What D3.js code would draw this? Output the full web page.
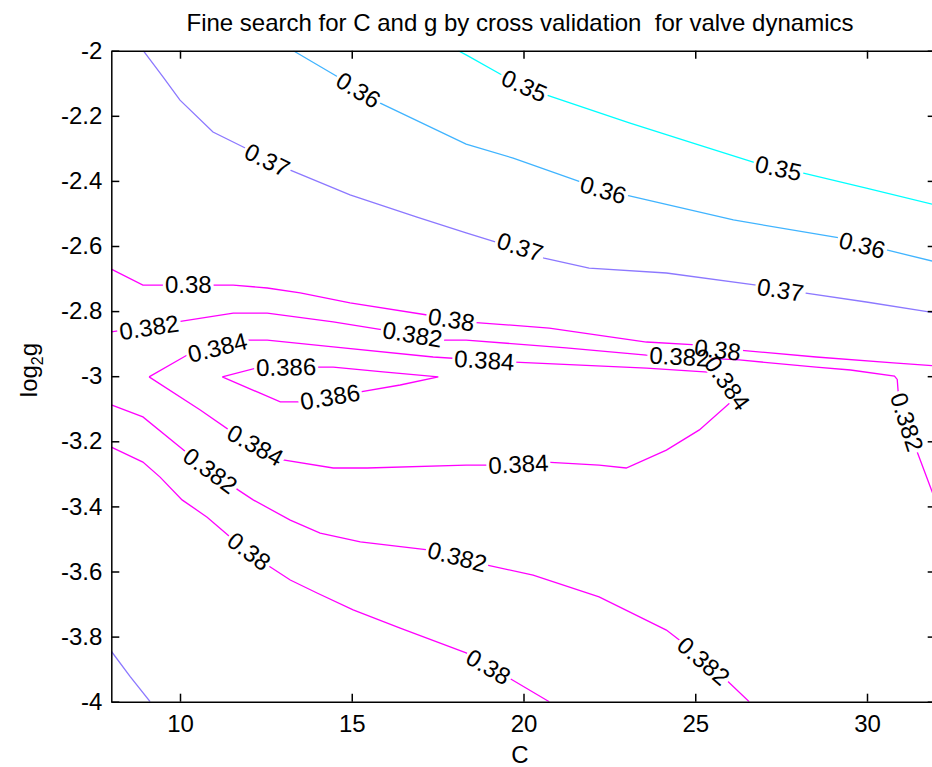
<!DOCTYPE html>
<html>
<head>
<meta charset="utf-8">
<script src="https://cdn.jsdelivr.net/npm/d3@7"></script>
<style>
body { margin: 0; background: #fff; }
text { font-family: "Liberation Sans", Arial, sans-serif; fill: #000; }
</style>
</head>
<body>
<div id="chart"></div>
<script>
// Tick values
var xTicks = [10, 15, 20, 25, 30];
var yTicks = [-4, -3.8, -3.6, -3.4, -3.2, -3, -2.8, -2.6, -2.4, -2.2, -2];

// Contour lines, as [C, log2g] pairs, and label spots
var line035 = [[18.10,-2.000],[18.33,-2.013],[19.41,-2.077],[20.66,-2.136],[23.08,-2.222],[25.12,-2.290],[26.78,-2.345],[28.15,-2.376],[29.98,-2.422],[32.00,-2.474]];
var label035 = [[20.02,-2.108],[27.42,-2.361]];

var line036 = [[13.30,-2.000],[14.60,-2.081],[15.83,-2.161],[18.33,-2.287],[19.70,-2.330],[21.68,-2.404],[22.99,-2.444],[26.11,-2.520],[29.20,-2.575],[30.57,-2.612],[32.00,-2.649]];
var label036 = [[15.19,-2.121],[22.32,-2.428],[29.86,-2.597]];

var line037a = [[8.93,-2.000],[9.51,-2.081],[10.00,-2.152],[10.96,-2.250],[11.90,-2.299],[13.21,-2.367],[14.95,-2.443],[16.90,-2.511],[18.33,-2.560],[19.20,-2.588],[20.60,-2.637],[21.91,-2.668],[24.16,-2.683],[26.78,-2.720],[28.17,-2.744],[29.98,-2.772],[32.00,-2.806]];
var label037a = [[12.54,-2.336],[19.90,-2.603],[27.48,-2.735]];
var line037b = [[8.00,-3.845],[8.55,-3.923],[9.13,-4.000]];

var line038a = [[8.00,-2.671],[8.92,-2.720],[9.56,-2.720],[10.94,-2.720],[11.55,-2.720],[12.54,-2.729],[13.50,-2.744],[14.95,-2.775],[17.20,-2.812],[18.33,-2.833],[20.75,-2.852],[23.58,-2.895],[25.03,-2.904],[26.28,-2.920],[28.52,-2.941],[30.77,-2.959],[32.00,-2.968]];
var label038a = [[10.24,-2.720],[17.90,-2.826],[25.65,-2.919]];
var line038b = [[8.00,-3.218],[8.92,-3.264],[9.42,-3.310],[10.06,-3.380],[10.79,-3.433],[11.46,-3.494],[12.54,-3.580],[13.21,-3.626],[13.99,-3.666],[15.04,-3.718],[16.41,-3.774],[18.33,-3.850],[19.58,-3.927],[20.75,-4.000]];
var label038b = [[12.01,-3.538],[18.98,-3.893]];

var line0382a = [[8.00,-2.864],[9.92,-2.833],[11.55,-2.806],[12.54,-2.806],[14.46,-2.833],[15.91,-2.858],[17.66,-2.889],[18.33,-2.889],[21.24,-2.913],[23.58,-2.935],[26.28,-2.950],[28.52,-2.972],[29.52,-2.981],[30.80,-3.000],[30.88,-3.010],[30.91,-3.052],[31.44,-3.227],[31.91,-3.359],[32.00,-3.396]];
var label0382a = [[9.10,-2.850],[16.77,-2.872],[24.54,-2.940],[31.16,-3.141]];
var line0382b = [[8.00,-3.088],[8.92,-3.125],[10.21,-3.236],[11.70,-3.350],[12.13,-3.380],[13.21,-3.442],[14.08,-3.482],[15.25,-3.509],[17.28,-3.534],[18.91,-3.580],[20.28,-3.611],[22.20,-3.678],[24.16,-3.780],[24.65,-3.820],[25.96,-3.939],[26.57,-4.000]];
var label0382b = [[10.88,-3.290],[18.07,-3.555],[25.24,-3.875]];

var line0384 = [[9.10,-3.002],[10.21,-2.935],[11.96,-2.889],[12.54,-2.889],[14.46,-2.910],[17.37,-2.941],[19.58,-2.956],[23.58,-2.975],[25.49,-2.988],[26.17,-3.067],[25.12,-3.165],[24.16,-3.227],[22.99,-3.282],[22.20,-3.273],[20.66,-3.264],[19.00,-3.273],[18.33,-3.273],[15.45,-3.282],[14.46,-3.282],[13.00,-3.257],[11.55,-3.174],[10.59,-3.104],[9.10,-3.002]];
var label0384 = [[11.09,-2.912],[18.86,-2.951],[25.93,-3.021],[12.19,-3.212],[19.85,-3.270]];

var line0386 = [[11.23,-3.002],[12.33,-2.972],[13.93,-2.972],[14.46,-2.972],[15.91,-2.987],[17.52,-3.002],[16.41,-3.027],[15.04,-3.052],[13.50,-3.079],[12.92,-3.079],[11.23,-3.002]];
var label0386 = [[13.09,-2.972],[14.37,-3.064]];

var contours = [
    {level: 0.35, pts: line035, labels: label035},
    {level: 0.36, pts: line036, labels: label036},
    {level: 0.37, pts: line037a, labels: label037a},
    {level: 0.37, pts: line037b, labels: []},
    {level: 0.38, pts: line038a, labels: label038a},
    {level: 0.38, pts: line038b, labels: label038b},
    {level: 0.382, pts: line0382a, labels: label0382a},
    {level: 0.382, pts: line0382b, labels: label0382b},
    {level: 0.384, pts: line0384, labels: label0384},
    {level: 0.386, pts: line0386, labels: label0386}
];

var svgWidth = 932;
var svgHeight = 767;

var x = d3.scaleLinear().domain([8, 32]).range([111.3, 935.7]);
var y = d3.scaleLinear().domain([-4, -2]).range([701.7, 50.7]);

// "cool"-like colours per level
var color = d3.scaleLinear()
    .domain([0.35, 0.36, 0.37, 0.38])
    .range(["#00ffff", "#40b4ff", "#8c78ff", "#ff00ff"])
    .clamp(true);

var svg = d3.select("#chart").append("svg")
    .attr("width", svgWidth)
    .attr("height", svgHeight);

var defs = svg.append("defs");
defs.append("clipPath").attr("id", "plotClip")
    .append("rect")
    .attr("x", x(8)).attr("y", y(-2))
    .attr("width", x(32) - x(8)).attr("height", y(-4) - y(-2));

var line = d3.line().x(d => x(d[0])).y(d => y(d[1]));

// point at arc length s along a pixel polyline
function pointAt(px, s) {
    s = Math.max(0, s);
    for (var i = 0; i < px.length - 1; i++) {
        var a = px[i], b = px[i + 1];
        var L = Math.hypot(b[0] - a[0], b[1] - a[1]);
        if (s <= L) return [a[0] + (b[0] - a[0]) * s / L, a[1] + (b[1] - a[1]) * s / L];
        s -= L;
    }
    return px[px.length - 1];
}

// angle of the line under a label, from the chord across the label width
function labelAngle(px, p, w) {
    var best = Infinity, bestS = 0, acc = 0;
    for (var i = 0; i < px.length - 1; i++) {
        var a = px[i], b = px[i + 1];
        var dx = b[0] - a[0], dy = b[1] - a[1], L = Math.hypot(dx, dy);
        var t = L ? Math.max(0, Math.min(1, ((p[0] - a[0]) * dx + (p[1] - a[1]) * dy) / (L * L))) : 0;
        var d = Math.hypot(a[0] + t * dx - p[0], a[1] + t * dy - p[1]);
        if (d < best) { best = d; bestS = acc + t * L; }
        acc += L;
    }
    var p1 = pointAt(px, bestS - w / 2), p2 = pointAt(px, bestS + w / 2);
    var ang = Math.atan2(p2[1] - p1[1], p2[0] - p1[0]) * 180 / Math.PI;
    if (ang > 90) ang -= 180;
    if (ang < -90) ang += 180;
    return ang;
}

var lineGroup = svg.append("g").attr("clip-path", "url(#plotClip)");
var labelGroup = svg.append("g");

contours.forEach(function (c, i) {
    var px = c.pts.map(d => [x(d[0]), y(d[1])]);

    var mask = defs.append("mask")
        .attr("id", "gap" + i)
        .attr("maskUnits", "userSpaceOnUse")
        .attr("x", 0).attr("y", 0)
        .attr("width", svgWidth).attr("height", svgHeight);
    mask.append("rect").attr("width", svgWidth).attr("height", svgHeight).attr("fill", "white");

    lineGroup.append("path")
        .attr("d", line(c.pts))
        .attr("fill", "none")
        .attr("stroke", color(c.level))
        .attr("stroke-width", 1.3)
        .attr("mask", "url(#gap" + i + ")");

    c.labels.forEach(function (l) {
        var cx = x(l[0]), cy = y(l[1]);
        var t = labelGroup.append("text")
            .attr("text-anchor", "middle")
            .attr("dy", "0.35em")
            .style("font-size", "24px")
            .text(String(c.level));
        var w = t.node().getComputedTextLength();
        var a = labelAngle(px, [cx, cy], w);
        t.attr("transform", `translate(${cx},${cy}) rotate(${a})`);
        mask.append("rect")
            .attr("x", -w / 2 - 2).attr("y", -10)
            .attr("width", w + 4).attr("height", 20)
            .attr("fill", "black")
            .attr("transform", `translate(${cx},${cy}) rotate(${a})`);
    });
});

// Axes (ticks point inward, box on all sides)
var fmt = d => String(Math.round(d * 10) / 10);

function styleAxis(g) {
    g.attr("font-size", null).attr("font-family", null);
    g.selectAll(".domain").attr("stroke", "#000").attr("stroke-width", 1.5);
    g.selectAll(".tick line").attr("stroke", "#000").attr("stroke-width", 1.5);
    g.selectAll(".tick text").style("font-size", "24px").attr("fill", "#000");
}

svg.append("g")
    .attr("transform", `translate(0, ${y(-4)})`)
    .call(d3.axisBottom(x).tickValues(xTicks).tickSizeInner(-8).tickSizeOuter(0).tickPadding(13).tickFormat(fmt))
    .call(styleAxis);

svg.append("g")
    .attr("transform", `translate(0, ${y(-2)})`)
    .call(d3.axisTop(x).tickValues(xTicks).tickSizeInner(-8).tickSizeOuter(0).tickFormat(""))
    .call(styleAxis);

svg.append("g")
    .attr("transform", `translate(${x(8)}, 0)`)
    .call(d3.axisLeft(y).tickValues(yTicks).tickSizeInner(-8).tickSizeOuter(0).tickPadding(9).tickFormat(fmt))
    .call(styleAxis);

svg.append("g")
    .attr("transform", `translate(${x(32)}, 0)`)
    .call(d3.axisRight(y).tickValues(yTicks).tickSizeInner(-8).tickSizeOuter(0).tickFormat(""))
    .call(styleAxis);

// Title and axis labels
svg.append("text")
    .attr("x", 520).attr("y", 31)
    .attr("text-anchor", "middle")
    .style("font-size", "24px")
    .style("white-space", "pre")
    .text("Fine search for C and g by cross validation  for valve dynamics");

svg.append("text")
    .attr("x", 520).attr("y", 763)
    .attr("text-anchor", "middle")
    .style("font-size", "24px")
    .text("C");

var ylab = svg.append("text")
    .attr("transform", "translate(37, 370) rotate(-90)")
    .attr("text-anchor", "middle")
    .style("font-size", "24px");
ylab.append("tspan").text("log");
ylab.append("tspan").attr("dy", 6).style("font-size", "16px").text("2");
ylab.append("tspan").attr("dy", -6).text("g");
</script>
</body>
</html>
